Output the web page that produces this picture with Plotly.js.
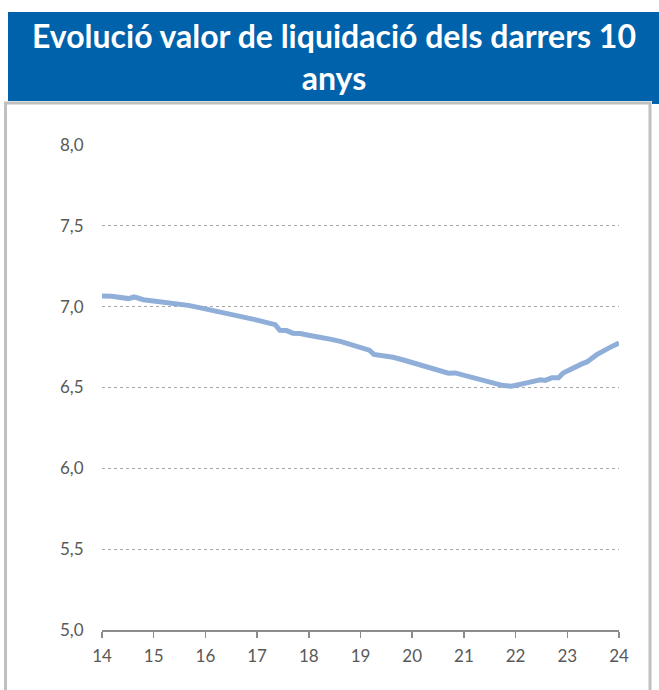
<!DOCTYPE html>
<html>
<head>
<meta charset="utf-8">
<script src="https://cdn.plot.ly/plotly-3.0.1.min.js"></script>
<style>html,body{margin:0;padding:0;background:#fff;}#chart{width:659px;height:690px;}</style>
</head>
<body>
<div id="chart"></div>
<script>
// Year (2-digit) positions and liquidation values
const years = [14.0, 14.19, 14.51, 14.62, 14.80, 14.99, 15.19, 15.35, 15.54, 15.67, 15.93, 16.12, 16.32, 16.44, 16.70, 16.96, 17.25, 17.35, 17.44, 17.57, 17.69, 17.83, 18.02, 18.22, 18.41, 18.61, 18.80, 19.0, 19.17, 19.26, 19.44, 19.63, 19.83, 20.02, 20.21, 20.41, 20.57, 20.70, 20.83, 21.09, 21.34, 21.50, 21.63, 21.76, 21.92, 22.12, 22.28, 22.48, 22.57, 22.70, 22.83, 22.92, 23.09, 23.28, 23.38, 23.57, 23.79, 24.0];
const values = [7.066, 7.064, 7.05, 7.06, 7.043, 7.037, 7.025, 7.022, 7.012, 7.008, 6.991, 6.979, 6.967, 6.957, 6.94, 6.92, 6.897, 6.889, 6.854, 6.852, 6.836, 6.834, 6.822, 6.813, 6.799, 6.785, 6.768, 6.75, 6.731, 6.705, 6.70, 6.687, 6.67, 6.652, 6.634, 6.617, 6.598, 6.588, 6.59, 6.568, 6.55, 6.533, 6.519, 6.512, 6.508, 6.519, 6.533, 6.548, 6.544, 6.56, 6.56, 6.59, 6.619, 6.646, 6.658, 6.703, 6.742, 6.775];
const xTicks = [14, 15, 16, 17, 18, 19, 20, 21, 22, 23, 24];
const yTicks = [5.0, 5.5, 6.0, 6.5, 7.0, 7.5, 8.0];
const titleText = 'Evolució valor de liquidació dels darrers 10<br>anys';

const W = 659, H = 690;
const L = 102, R = 40, T = 145, B = 60;
const pw = W - L - R, ph = H - T - B;
const px = v => (v - L) / pw;
const py = v => (H - B - v) / ph;

const trace = {
  x: years, y: values, type: 'scatter', mode: 'lines',
  line: {color: '#8fafd9', width: 5, shape: 'linear'},
  hoverinfo: 'skip'
};

const layout = {
  width: W, height: H,
  margin: {l: L, r: R, t: T, b: B},
  paper_bgcolor: '#ffffff', plot_bgcolor: '#ffffff',
  separators: ',.',
  showlegend: false,
  font: {family: 'Lato, "Open Sans", sans-serif', color: '#595959', size: 17},
  title: {
    text: titleText,
    font: {family: 'Lato, "Open Sans", sans-serif', size: 32, color: '#ffffff', weight: 'bold'},
    x: 334 / W, xanchor: 'center', xref: 'container',
    y: 1 - 48 / H, yanchor: 'middle', yref: 'container'
  },
  xaxis: {
    range: [14, 24], tickvals: xTicks, ticktext: xTicks.map(String),
    showgrid: false, zeroline: false,
    showline: true, linecolor: '#8c8c8c', linewidth: 1.5,
    ticks: 'outside', ticklen: 6, tickcolor: '#8c8c8c', tickwidth: 1.5,
    tickfont: {size: 17, color: '#595959'},
    ticklabelstandoff: 4,
    fixedrange: true
  },
  yaxis: {
    range: [5, 8], tickvals: yTicks, tickformat: '.1f',
    showgrid: true, gridcolor: '#a6a6a6', gridwidth: 1, griddash: 'dot',
    zeroline: false, showline: false,
    ticks: 'outside', ticklen: 14, tickcolor: 'rgba(0,0,0,0)',
    tickfont: {size: 17, color: '#595959'},
    fixedrange: true
  },
  shapes: [
    {type: 'rect', xref: 'paper', yref: 'paper', layer: 'below',
     x0: px(5.5), x1: px(650), y0: py(700), y1: py(103),
     line: {color: '#c0c0c0', width: 3}, fillcolor: 'rgba(0,0,0,0)'},
    {type: 'rect', xref: 'paper', yref: 'paper', layer: 'below',
     x0: px(8), x1: px(659), y0: py(101), y1: py(12),
     line: {width: 0}, fillcolor: '#0062ab'},
    {type: 'rect', xref: 'paper', yref: 'paper', layer: 'below',
     x0: px(652), x1: px(659), y0: py(104), y1: py(100),
     line: {width: 0}, fillcolor: '#0062ab'}
  ]
};

Plotly.newPlot('chart', [trace], layout, {displayModeBar: false, staticPlot: true});
</script>
</body>
</html>
